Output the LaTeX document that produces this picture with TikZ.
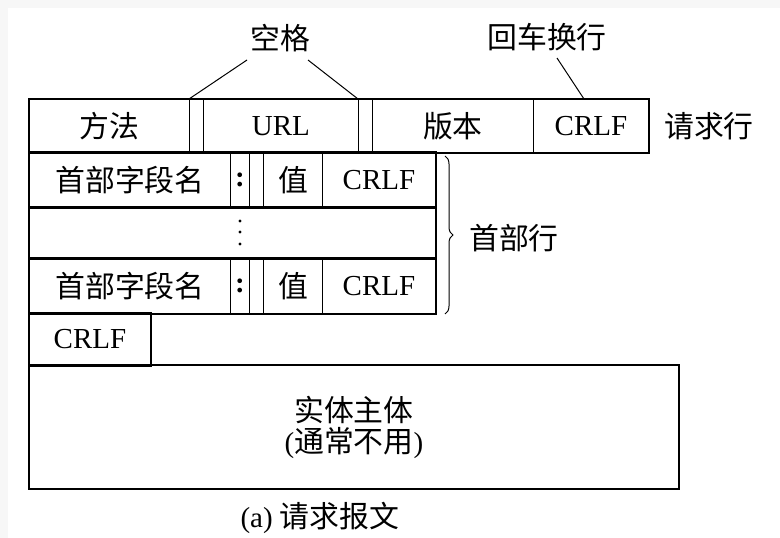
\documentclass[tikz,border=0pt]{standalone}
\usepackage{fontspec}
\setmainfont{Liberation Serif}
\newfontfamily\cjk{Noto Sans CJK SC}[Scale=1.03]
\usetikzlibrary{decorations.pathreplacing}
\tikzset{
  cell/.style={draw=black, line width=0.9pt, inner sep=0pt, anchor=north west, font=\fontsize{29}{31}\selectfont},
  rowbox/.style={draw=black, line width=2pt},
  lbl/.style={inner sep=0pt, font=\fontsize{29}{31}\selectfont},
  lead/.style={draw=black, line width=1pt}
}
\begin{document}
\begin{tikzpicture}[x=1pt,y=-1pt]
\useasboundingbox (0,0) rectangle (780,538);
\fill[gray!6] (0,0) rectangle (780,538);
\fill[white] (8,8) rectangle (780,538);
% request line
\node[cell, minimum width=160pt, minimum height=53pt] (m) at (29,99) {\cjk 方法};
\node[cell, minimum width=14pt, minimum height=53pt] (s1) at (189,99) {};
\node[cell, minimum width=155pt, minimum height=53pt] (url) at (203,99) {URL};
\node[cell, minimum width=14pt, minimum height=53pt] (s2) at (358,99) {};
\node[cell, minimum width=161pt, minimum height=53pt] (ver) at (372,99) {\cjk 版本};
\node[cell, minimum width=115pt, minimum height=53pt] (cr1) at (533,99) {CRLF};
\draw[rowbox] (m.north west) rectangle (cr1.south east);
\node[lbl, anchor=west] (reqline) at (664,126) {\cjk 请求行};
% header row 1
\node[cell, minimum width=201pt, minimum height=55pt] (h1n) at (29,152) {\cjk 首部字段名};
\node[cell, minimum width=19pt, minimum height=55pt] (h1c) at (230,152) {\textbf{:}};
\node[cell, minimum width=14pt, minimum height=55pt] (h1s) at (249,152) {};
\node[cell, minimum width=59pt, minimum height=55pt] (h1v) at (263,152) {\cjk 值};
\node[cell, minimum width=113pt, minimum height=55pt] (h1r) at (322,152) {CRLF};
\draw[rowbox] (h1n.north west) rectangle (h1r.south east);
% dots row
\node[cell, minimum width=406pt, minimum height=51pt, draw=none] (hd) at (29,207) {};
\draw[rowbox] (hd.north west) rectangle (hd.south east);
\foreach \yy in {221,232,244} \fill (240,\yy) circle (1.7pt);
% header row 3
\node[cell, minimum width=201pt, minimum height=55pt] (h3n) at (29,258) {\cjk 首部字段名};
\node[cell, minimum width=19pt, minimum height=55pt] (h3c) at (230,258) {\textbf{:}};
\node[cell, minimum width=14pt, minimum height=55pt] (h3s) at (249,258) {};
\node[cell, minimum width=59pt, minimum height=55pt] (h3v) at (263,258) {\cjk 值};
\node[cell, minimum width=113pt, minimum height=55pt] (h3r) at (322,258) {CRLF};
\draw[rowbox] (h3n.north west) rectangle (h3r.south east);
% empty line
\node[cell, minimum width=121pt, minimum height=52pt, draw=none] (cr0) at (29,313) {CRLF};
\draw[rowbox] (cr0.north west) rectangle (cr0.south east);
% entity body
\node[cell, minimum width=649pt, minimum height=123pt, draw=none, align=center] (body) at (29,365) {{\cjk 实体主体}\\[0pt]({\cjk 通常不用})};
\draw[rowbox] (body.north west) rectangle (body.south east);
% brace
\coordinate (bt) at (445,156);
\coordinate (bb) at (445,314);
\draw[line width=1pt, decorate, decoration={brace, amplitude=8pt}] (bt) -- (bb);
\node[lbl, anchor=west] (hdr) at (469,238) {\cjk 首部行};
% top labels
\node[lbl] (sp) at (280,38) {\cjk 空格};
\node[lbl] (crlfl) at (547,37) {\cjk 回车换行};
\coordinate (spl) at (247,60);
\coordinate (spr) at (308,60);
\coordinate (crs) at (557,58);
\draw[lead] (spl) -- (s1.north west);
\draw[lead] (spr) -- (s2.north west);
\draw[lead] (crs) -- ([xshift=51pt]cr1.north west);
% caption
\node[lbl] (cap) at (320,518) {(a) {\cjk 请求报文}};
\end{tikzpicture}
\end{document}
